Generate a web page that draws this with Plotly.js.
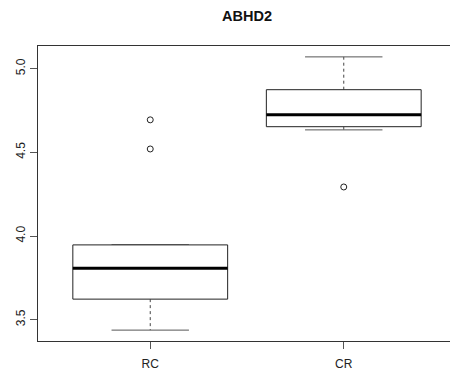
<!DOCTYPE html>
<html>
<head>
<meta charset="utf-8">
<script src="https://cdn.plot.ly/plotly-3.0.1.min.js"></script>
<style>
html,body{margin:0;padding:0;overflow:hidden;background:#fff;}
#chart{width:457px;height:374px;}
</style>
</head>
<body>
<div id="chart"></div>
<script>
// Data
const groups = ['RC', 'CR'];
const lowerWhisker = [3.438, 4.634];
const q1 = [3.623, 4.653];
const median = [3.807, 4.724];
const q3 = [3.947, 4.874];
const upperWhisker = [3.947, 5.070];
const outliersRC = [4.694, 4.520];
const outliersCR = [4.293];
const outliers = [outliersRC, outliersCR];
const yTicks = [3.5, 4.0, 4.5, 5.0];

const halfBox = 0.4, halfCap = 0.2;
const traces = [];
groups.forEach((g, i) => {
  const c = i + 1;
  // whiskers (dashed)
  traces.push({x: [c, c, null, c, c], y: [q3[i], upperWhisker[i], null, q1[i], lowerWhisker[i]],
    mode: 'lines', line: {color: '#444', width: 1, dash: '3px,3px'}, hoverinfo: 'skip', showlegend: false});
  // caps
  traces.push({x: [c - halfCap, c + halfCap, null, c - halfCap, c + halfCap],
    y: [upperWhisker[i], upperWhisker[i], null, lowerWhisker[i], lowerWhisker[i]],
    mode: 'lines', line: {color: '#555', width: 1}, hoverinfo: 'skip', showlegend: false});
  // box
  traces.push({x: [c - halfBox, c + halfBox, c + halfBox, c - halfBox, c - halfBox],
    y: [q1[i], q1[i], q3[i], q3[i], q1[i]], mode: 'lines', fill: 'toself', fillcolor: '#fff',
    line: {color: '#222', width: 1}, hoverinfo: 'skip', showlegend: false});
  // median
  traces.push({x: [c - halfBox, c + halfBox], y: [median[i], median[i]], mode: 'lines',
    line: {color: '#000', width: 3}, hoverinfo: 'skip', showlegend: false});
  // outliers
  traces.push({x: outliers[i].map(() => c), y: outliers[i], mode: 'markers',
    marker: {symbol: 'circle-open', size: 6, color: '#222', line: {width: 1}}, showlegend: false});
});

const layout = {
  width: 457, height: 374,
  margin: {l: 37.5, r: 0.5, t: 46, b: 33.3, pad: 0},
  paper_bgcolor: '#fff', plot_bgcolor: '#fff',
  font: {family: 'Liberation Sans, Arial, sans-serif', size: 12, color: '#222'},
  title: {text: '<b>ABHD2</b>', font: {size: 14.5, color: '#111'}, x: 0.5, xref: 'paper',
    y: 1 - 15.5 / 374, yref: 'container', yanchor: 'middle'},
  xaxis: {range: [0.42, 2.58], tickmode: 'array', tickvals: groups.map((g, i) => i + 1), ticktext: groups,
    showgrid: false, zeroline: false, showline: true, mirror: true, linecolor: '#333', linewidth: 1,
    ticks: 'outside', ticklen: 7, tickcolor: '#555', ticklabelstandoff: 5, fixedrange: true},
  yaxis: {range: [3.373, 5.135], tickmode: 'array', tickvals: yTicks, ticktext: yTicks.map(v => v.toFixed(1)),
    tickangle: -90, showgrid: false, zeroline: false, showline: true, mirror: true, linecolor: '#333', linewidth: 1,
    ticks: 'outside', ticklen: 7, tickcolor: '#555', fixedrange: true},
  showlegend: false
};
Plotly.newPlot('chart', traces, layout, {displayModeBar: false, staticPlot: true});
</script>
</body>
</html>
